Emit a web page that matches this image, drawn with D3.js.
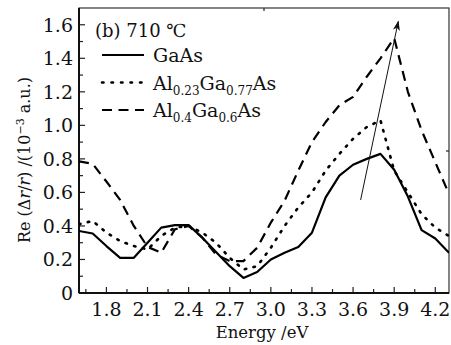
<!DOCTYPE html>
<html><head><meta charset="utf-8">
<script src="https://cdn.jsdelivr.net/npm/d3@7"></script>
<style>
body{margin:0;background:#fff;}
</style></head>
<body><svg id="c" width="451" height="345"></svg>
<script>
const energy = [1.6,1.7,1.8,1.9,2.0,2.1,2.2,2.3,2.4,2.5,2.6,2.7,2.8,2.9,3.0,3.1,3.2,3.3,3.4,3.5,3.6,3.7,3.8,3.9,4.0,4.1,4.2,4.3];
const gaAs   = [0.37,0.355,0.28,0.21,0.21,0.30,0.39,0.405,0.405,0.33,0.245,0.16,0.09,0.125,0.20,0.24,0.275,0.36,0.57,0.70,0.765,0.80,0.83,0.735,0.575,0.375,0.325,0.24];
const al023  = [0.41,0.43,0.36,0.31,0.28,0.26,0.34,0.39,0.40,0.36,0.30,0.21,0.14,0.16,0.27,0.40,0.51,0.60,0.73,0.83,0.92,0.99,1.03,0.73,0.60,0.47,0.39,0.34];
const al04   = [0.785,0.77,0.665,0.555,0.40,0.275,0.24,0.38,0.40,0.33,0.23,0.19,0.19,0.27,0.42,0.55,0.73,0.90,1.02,1.12,1.17,1.29,1.40,1.52,1.20,0.97,0.78,0.59];
const xTicks = [1.8,2.1,2.4,2.7,3.0,3.3,3.6,3.9,4.2];
const yTicks = [0,0.2,0.4,0.6,0.8,1.0,1.2,1.4,1.6];
const arrowFrom = [3.655,0.555];
const arrowTo = [3.93,1.62];

const FONT = "'DejaVu Serif','Liberation Serif','Noto Serif',serif";
const FS = 19;
const svg = d3.select("#c");
const L=79,R=449,T=8,B=293;
const x = d3.scaleLinear().domain([1.6,4.3]).range([L,R]);
const y = d3.scaleLinear().domain([0,1.7]).range([B,T]);

const defs = svg.append("defs");
defs.append("clipPath").attr("id","clip").append("rect").attr("x",L).attr("y",T).attr("width",R-L).attr("height",B-T);
defs.append("marker").attr("id","ah").attr("viewBox","0 0 10 10").attr("refX",9).attr("refY",5)
  .attr("markerWidth",10).attr("markerHeight",10).attr("markerUnits","userSpaceOnUse").attr("orient","auto")
  .append("path").attr("d","M0,1.5 L10,5 L0,8.5 L2.5,5 Z").attr("fill","#111");

// ticks
const xMinor = d3.range(1.65,4.3,0.15);
const yMinor = d3.range(0.1,1.7,0.2);
const tg = svg.append("g").attr("stroke","#222").attr("stroke-width",1.2);
xMinor.forEach(v=>{ const isMajor = xTicks.some(t=>Math.abs(t-v)<1e-6);
  tg.append("line").attr("x1",x(v)).attr("x2",x(v)).attr("y1",B).attr("y2",B-(isMajor?6:4)); });
yTicks.concat(yMinor).forEach(v=>{ const isMajor = yTicks.some(t=>Math.abs(t-v)<1e-6);
  tg.append("line").attr("x1",L).attr("x2",L+(isMajor?6:4)).attr("y1",y(v)).attr("y2",y(v)); });
tg.append("line").attr("x1",264).attr("x2",264).attr("y1",T).attr("y2",T+3);
tg.append("line").attr("x1",R).attr("x2",R-3).attr("y1",151).attr("y2",151);

// frame
svg.append("rect").attr("x",L).attr("y",T).attr("width",R-L).attr("height",B-T)
  .attr("fill","none").attr("stroke","#333").attr("stroke-width",1.2);
svg.append("line").attr("x1",L).attr("x2",L).attr("y1",T).attr("y2",B).attr("stroke","#111").attr("stroke-width",2);
svg.append("line").attr("x1",L).attr("x2",R).attr("y1",B).attr("y2",B).attr("stroke","#111").attr("stroke-width",2);

function T_(sel){ return sel.style("font-family",FONT).attr("fill","#111"); }

// tick labels
T_(svg.append("g").selectAll("text").data(xTicks).join("text")
  .attr("x",d=>x(d)).attr("y",316).attr("text-anchor","middle").attr("font-size",FS).text(d=>d.toFixed(1)));
T_(svg.append("g").selectAll("text").data(yTicks).join("text")
  .attr("x",73).attr("y",d=>y(d)+7).attr("text-anchor","end").attr("font-size",FS).text(d=>d===0?"0":d.toFixed(1)));

// axis labels
T_(svg.append("text").attr("x",262).attr("y",338).attr("text-anchor","middle").attr("font-size",16.5).text("Energy /eV"));
const yl = T_(svg.append("text").attr("transform","translate(30,160) rotate(-90)").attr("text-anchor","middle").attr("font-size",16));
yl.append("tspan").text("Re (Δ");
yl.append("tspan").attr("font-style","italic").text("r");
yl.append("tspan").text("/");
yl.append("tspan").attr("font-style","italic").text("r");
yl.append("tspan").text(") /(10");
yl.append("tspan").attr("font-size",11).attr("dy",-6).text("−3");
yl.append("tspan").attr("dy",6).text(" a.u.)");

// lines
const line = d3.line().x((d,i)=>x(energy[i])).y(d=>y(d));
const pg = svg.append("g").attr("clip-path","url(#clip)").attr("fill","none").attr("stroke","#000").attr("stroke-linejoin","round");
pg.append("path").attr("d",line(al04)).attr("stroke-width",2.2).attr("stroke-dasharray","10,6.5");
pg.append("path").attr("d",line(al023)).attr("stroke-width",2.6).attr("stroke-dasharray","1.5,7.5").attr("stroke-linecap","round");
pg.append("path").attr("d",line(gaAs)).attr("stroke-width",2.2);

// arrow
svg.append("line").attr("x1",x(arrowFrom[0])).attr("y1",y(arrowFrom[1])).attr("x2",x(arrowTo[0])).attr("y2",y(arrowTo[1]))
  .attr("stroke","#111").attr("stroke-width",1).attr("marker-end","url(#ah)");

// legend
T_(svg.append("text").attr("x",95).attr("y",36.5).attr("font-size",18).text("(b) 710 ℃"));
const leg = [
  {dash:null, w:2.2, parts:[["GaAs",0]]},
  {dash:"1.5,8", w:2.6, parts:[["Al",0],["0.23",1],["Ga",0],["0.77",1],["As",0]]},
  {dash:"10,6.5", w:2.2, parts:[["Al",0],["0.4",1],["Ga",0],["0.6",1],["As",0]]}
];
leg.forEach((e,i)=>{
  const yy = 55 + i*27.5;
  const ln = svg.append("line").attr("x1",102).attr("x2",144).attr("y1",yy).attr("y2",yy)
    .attr("stroke","#000").attr("stroke-width",e.w);
  if(e.dash){ ln.attr("stroke-dasharray",e.dash); if(i===1) ln.attr("stroke-linecap","round"); }
  const t = T_(svg.append("text").attr("x",153).attr("y",yy+7).attr("font-size",FS));
  let prevSub=false;
  e.parts.forEach(p=>{
    const s = t.append("tspan").text(p[0]);
    if(p[1]){ s.attr("font-size",12).attr("dy",5); prevSub=true; }
    else if(prevSub){ s.attr("dy",-5); prevSub=false; }
  });
});
</script></body></html>
